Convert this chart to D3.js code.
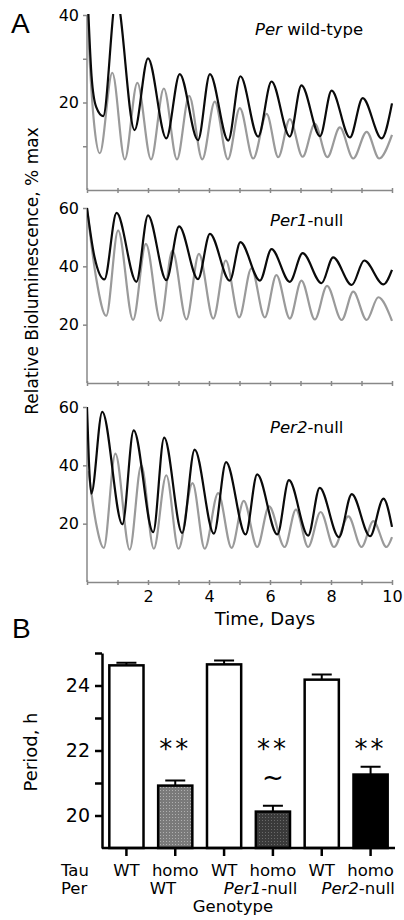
<!DOCTYPE html>
<html lang="en">

<head>
  <meta charset="UTF-8">
  <title>Tau / Per bioluminescence and period</title>
  <script src="https://d3js.org/d3.v7.min.js"></script>
  <style>
    body {
      margin: 0;
      background: #fff;
    }

    svg text {
      font-family: "DejaVu Sans", Verdana, sans-serif;
      fill: #000;
    }

    .panel-letter {
      font-family: "Liberation Sans", Arial, sans-serif !important;
      font-size: 28px;
    }

    .axisA path,
    .axisA line {
      stroke: #888;
      stroke-width: 1.5px;
    }

    .axisB path,
    .axisB line {
      stroke: #000;
      stroke-width: 2.5px;
    }
  </style>
</head>

<body>

  <svg id="chart"></svg>

  <script>
    // ---- data: [day, % max] peaks / troughs ----
    const wtBlack = [[0, 48], [0.15, 26], [0.3, 19], [0.53, 16.9], [0.96, 44], [1.56, 13.7], [2.0, 30.1], [2.6, 11.8],
      [3.04, 26.5], [3.64, 11.4], [4.03, 26.5], [4.63, 11.3], [5.03, 26], [5.61, 12.2], [6.05, 24.8], [6.65, 12.2],
      [7.03, 23.9], [7.64, 12.3], [8.02, 22.7], [8.62, 12.0], [9.04, 21.0], [9.66, 11.8], [10, 19.8]];
    const wtGray = [[0, 42], [0.1, 28], [0.25, 14], [0.42, 8.4], [0.83, 26.8], [1.24, 7.0], [1.65, 24.5], [2.1, 7.0],
      [2.52, 23.2], [2.95, 7.0], [3.35, 21.5], [3.78, 7.0], [4.19, 20.2], [4.62, 7.0], [5.01, 18.7], [5.45, 7.2],
      [5.89, 17.4], [6.27, 7.5], [6.65, 16.2], [7.07, 7.6], [7.47, 15.1], [7.88, 7.5], [8.29, 14.3], [8.73, 7.2],
      [9.17, 13.3], [9.58, 7.2], [10, 12.6]];

    const per1Black = [[0, 60], [0.25, 43], [0.57, 35.5], [0.97, 58.3], [1.62, 34.7], [2.0, 57.5], [2.6, 35.3],
      [3.02, 53.7], [3.64, 35.6], [4.03, 51.1], [4.68, 35.1], [5.03, 48.3], [5.67, 35.1], [6.05, 45.9], [6.65, 34.7],
      [7.07, 44.5], [7.69, 34.2], [8.07, 43.1], [8.68, 33.6], [9.09, 42.0], [9.72, 33.8], [10, 38.8]];
    const per1Gray = [[0, 60], [0.3, 36], [0.63, 23], [1.02, 52.3], [1.51, 21.6], [1.93, 47.7], [2.41, 21.3],
      [2.8, 45.4], [3.26, 21.8], [3.67, 44.3], [4.14, 22.1], [4.55, 42.0], [4.99, 22.5], [5.39, 39.3], [5.83, 22.5],
      [6.21, 37.0], [6.65, 22.1], [7.03, 35.1], [7.47, 21.8], [7.87, 33.3], [8.35, 21.6], [8.73, 31.3], [9.17, 21.6],
      [9.55, 29.4], [10, 21.3]];

    const per2Black = [[0, 60], [0.06, 42], [0.14, 30.3], [0.5, 58.3], [1.16, 19.8], [1.53, 52], [2.17, 17.1],
      [2.53, 49.5], [3.12, 16.8], [3.53, 45.4], [4.16, 16.6], [4.56, 41.1], [5.2, 16.3], [5.58, 36.9], [6.24, 16.3],
      [6.62, 34.9], [7.25, 15.9], [7.63, 32.3], [8.26, 15.4], [8.68, 30.1], [9.28, 15.7], [9.72, 28.6], [10, 18.9]];
    const per2Gray = [[0.05, 38], [0.3, 20], [0.55, 11.7], [0.93, 44], [1.4, 11.1], [1.78, 40], [2.19, 11.4],
      [2.6, 36.6], [3.0, 11.4], [3.46, 33.9], [3.86, 11.4], [4.3, 30.5], [4.74, 11.7], [5.14, 27.8], [5.58, 12],
      [5.97, 25.9], [6.48, 12], [6.85, 24.8], [7.25, 12], [7.66, 24], [8.1, 12], [8.57, 22.5], [9.0, 12],
      [9.39, 20.9], [9.82, 12], [10, 15.4]];

    const panelTitles = [["Per", " wild-type"], ["Per1", "-null"], ["Per2", "-null"]];
    const panelMax = [40, 60, 60];
    const panelTicks = [[10, 20, 30, 40], [20, 40, 60], [20, 40, 60]];
    const panelLabels = [[20, 40], [20, 40, 60], [20, 40, 60]];
    const dayTicks = [2, 4, 6, 8, 10];

    // ---- panel B: period, h ----
    const tauRow = ["WT", "homo", "WT", "homo", "WT", "homo"];
    const perGroups = [["", "WT"], ["Per1", "-null"], ["Per2", "-null"]];
    const periods = [24.62, 20.92, 24.65, 20.12, 24.18, 21.26];
    const periodErr = [0.08, 0.16, 0.12, 0.18, 0.16, 0.24];
    const barFills = ["#fff", "url(#dotLight)", "#fff", "url(#dotDark)", "#fff", "#000"];
    const stars = ["", "**", "", "**", "", "**"];
    const periodTicks = [20, 21, 22, 23, 24, 25];

    const width = 404, height = 920;
    const svg = d3.select("#chart").attr("width", width).attr("height", height);

    // stipple patterns for the grey homo bars
    const defs = svg.append("defs");
    function dotPattern(id, bg, dot) {
      const p = defs.append("pattern").attr("id", id).attr("patternUnits", "userSpaceOnUse")
        .attr("width", 3).attr("height", 3);
      p.append("rect").attr("width", 3).attr("height", 3).attr("fill", bg);
      p.append("rect").attr("x", 1).attr("y", 1).attr("width", 1).attr("height", 1).attr("fill", dot);
    }
    dotPattern("dotLight", "#7a7a7a", "#b0b0b0");
    dotPattern("dotDark", "#3a3a3a", "#6a6a6a");

    // ================= Panel A =================
    const x = d3.scaleLinear().domain([0, 10]).range([87, 392]);
    const panelBottoms = [190, 383, 582];
    const panelTops = [15, 208, 407];
    const series = [[wtGray, wtBlack], [per1Gray, per1Black], [per2Gray, per2Black]];

    svg.append("text").attr("class", "panel-letter").attr("x", 11).attr("y", 33).text("A");

    panelBottoms.forEach((bottom, i) => {
      const y = d3.scaleLinear().domain([0, panelMax[i]]).range([bottom, panelTops[i]]);

      // clip traces to plot area (wild-type first peak runs off the top)
      defs.append("clipPath").attr("id", "clip" + i)
        .append("rect").attr("x", x(0)).attr("y", panelTops[i] - 1)
        .attr("width", x(10) - x(0) + 2).attr("height", bottom - panelTops[i] + 1);

      // y axis
      const yAxis = svg.append("g").attr("class", "axisA")
        .attr("transform", `translate(${x(0)},0)`)
        .call(d3.axisLeft(y).tickValues(panelTicks[i]).tickSize(4).tickSizeOuter(0)
          .tickFormat(d => panelLabels[i].includes(d) ? d : ""));
      yAxis.select(".domain").attr("d", `M0,${bottom}V${panelTops[i]}`);
      yAxis.selectAll("text").attr("font-size", "16px").attr("x", -8)
        .style("font-family", '"DejaVu Sans", Verdana, sans-serif');

      // x axis
      const xAxis = svg.append("g").attr("class", "axisA")
        .attr("transform", `translate(0,${bottom})`)
        .call(d3.axisBottom(x).ticks(10).tickSize(3).tickSizeOuter(0)
          .tickFormat(d => (i === 2 && dayTicks.includes(d)) ? d : ""));
      xAxis.selectAll(".tick line").attr("y1", -2);
      xAxis.selectAll("text").attr("font-size", "16px").attr("dy", "0.9em")
        .style("font-family", '"DejaVu Sans", Verdana, sans-serif');

      const line = d3.line()
        .x(d => x(d[0]))
        .y(d => y(d[1]))
        .curve(d3.curveMonotoneX);

      const g = svg.append("g").attr("clip-path", `url(#clip${i})`);
      g.append("path").datum(series[i][0])
        .attr("d", line).attr("fill", "none").attr("stroke", "#9a9a9a").attr("stroke-width", 2.2);
      g.append("path").datum(series[i][1])
        .attr("d", line).attr("fill", "none").attr("stroke", "#0a0a0a").attr("stroke-width", 2.2);

      // genotype label in the corner
      const t = svg.append("text").attr("x", i === 0 ? 255 : 270)
        .attr("y", [35, 226, 433][i]).attr("font-size", "16.5px");
      t.append("tspan").attr("font-style", "italic").text(panelTitles[i][0]);
      t.append("tspan").text(panelTitles[i][1]);
    });

    svg.append("text")
      .attr("transform", "translate(38,271) rotate(-90)")
      .attr("text-anchor", "middle")
      .attr("font-size", "17px")
      .text("Relative Bioluminescence, % max");

    svg.append("text")
      .attr("x", 265).attr("y", 625)
      .attr("text-anchor", "middle")
      .attr("font-size", "18px")
      .text("Time, Days");

    // ================= Panel B =================
    svg.append("text").attr("class", "panel-letter").attr("x", 12).attr("y", 638).text("B");

    const xb = d3.scaleBand().domain(d3.range(periods.length)).range([102, 395])
      .paddingInner(0.3).paddingOuter(0.15);
    const yb = d3.scaleLinear().domain([19, 25]).range([848, 653]);

    // bars
    svg.selectAll(".bar")
      .data(periods)
      .enter()
      .append("rect")
      .attr("class", "bar")
      .attr("x", (d, i) => xb(i))
      .attr("y", d => yb(d))
      .attr("width", xb.bandwidth())
      .attr("height", d => yb(19) - yb(d))
      .attr("fill", (d, i) => barFills[i])
      .attr("stroke", "#000")
      .attr("stroke-width", 2.5);

    // error bars (upper only)
    const cx = i => xb(i) + xb.bandwidth() / 2;
    svg.selectAll(".err")
      .data(periods)
      .enter()
      .append("path")
      .attr("class", "err")
      .attr("d", (d, i) => `M${cx(i)},${yb(d)}V${yb(d + periodErr[i])}M${cx(i) - 10},${yb(d + periodErr[i])}H${cx(i) + 10}`)
      .attr("stroke", "#000")
      .attr("stroke-width", 2)
      .attr("fill", "none");

    // y axis
    const yAxisB = svg.append("g").attr("class", "axisB")
      .attr("transform", "translate(102,0)")
      .call(d3.axisLeft(yb).tickValues(periodTicks).tickSize(7).tickSizeOuter(0)
        .tickFormat(d => d % 2 === 0 && d < 25 ? d : ""));
    yAxisB.selectAll("text").attr("font-size", "19px").attr("x", -12)
      .style("font-family", '"DejaVu Sans", Verdana, sans-serif');

    // x axis with ticks under each bar
    const xAxisB = svg.append("g").attr("class", "axisB")
      .attr("transform", "translate(0,848)")
      .call(d3.axisBottom(xb).tickSize(8).tickSizeOuter(0).tickFormat(""));
    xAxisB.select(".domain").attr("d", "M102,0H395");

    // significance marks
    svg.selectAll(".stars")
      .data(stars)
      .enter()
      .append("text")
      .attr("class", "stars")
      .attr("x", (d, i) => cx(i))
      .attr("y", 758)
      .attr("text-anchor", "middle")
      .attr("font-size", "26px")
      .attr("letter-spacing", "3px")
      .text(d => d);
    svg.append("text")
      .attr("x", cx(3)).attr("y", 786)
      .attr("text-anchor", "middle")
      .attr("font-size", "26px")
      .text("~");

    // genotype labels
    svg.append("text").attr("x", 61).attr("y", 876).attr("font-size", "16.5px").text("Tau");
    svg.append("text").attr("x", 61).attr("y", 894).attr("font-size", "16.5px").text("Per");
    svg.selectAll(".tau")
      .data(tauRow)
      .enter()
      .append("text")
      .attr("class", "tau")
      .attr("x", (d, i) => cx(i))
      .attr("y", 876)
      .attr("text-anchor", "middle")
      .attr("font-size", "16.5px")
      .text(d => d);
    perGroups.forEach((p, k) => {
      const t = svg.append("text")
        .attr("x", (cx(2 * k) + cx(2 * k + 1)) / 2 + 12)
        .attr("y", 894)
        .attr("text-anchor", "middle")
        .attr("font-size", "16.5px");
      t.append("tspan").attr("font-style", "italic").text(p[0]);
      t.append("tspan").text(p[1]);
    });
    svg.append("text")
      .attr("x", 233).attr("y", 912)
      .attr("text-anchor", "middle")
      .attr("font-size", "16.5px")
      .text("Genotype");

    svg.append("text")
      .attr("transform", "translate(37,752) rotate(-90)")
      .attr("text-anchor", "middle")
      .attr("font-size", "18px")
      .text("Period, h");
  </script>

</body>

</html>
